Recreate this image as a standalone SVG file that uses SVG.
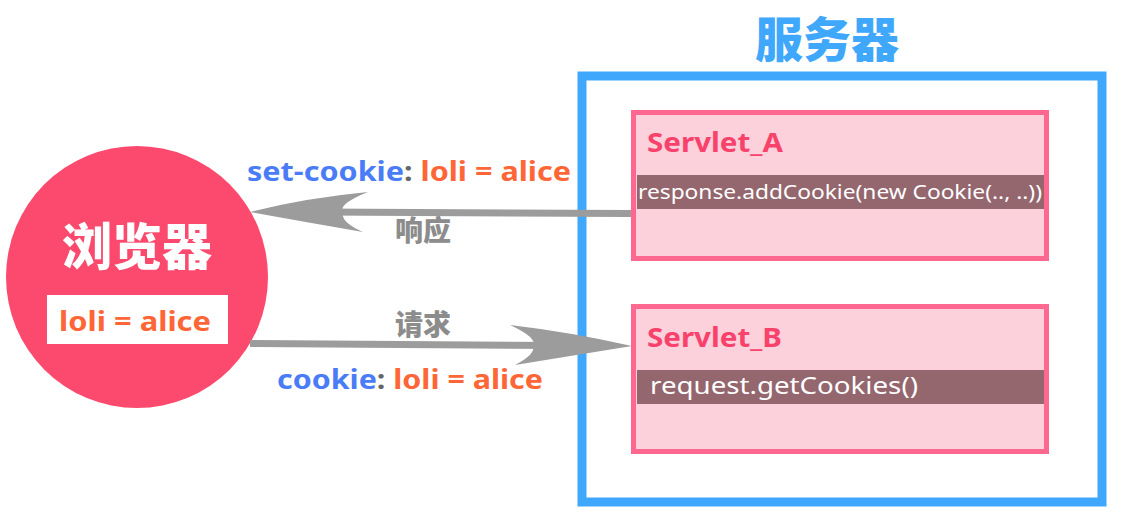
<svg xmlns="http://www.w3.org/2000/svg" width="1145" height="521" viewBox="0 0 1145 521">
<style>
.lat{font-family:"Noto Sans","Open Sans","Liberation Sans",sans-serif;font-weight:bold}
.cjk{font-family:"Noto Sans CJK SC","Noto Sans",sans-serif;font-weight:900}
.code{font-family:"Noto Sans","Open Sans","Liberation Sans",sans-serif;fill:#fff}
.blue{fill:#4a7cf8}.orange{fill:#ff6637}.colon{fill:#666}
.servlet{fill:#fdd1db;stroke:#fe6890;stroke-width:5}
.bar{fill:#94666e}
.title{fill:#f8416b;font-size:26px}
.arrow{fill:#9c9c9c}
.line{stroke:#9c9c9c;stroke-width:7;fill:none}
</style>
<rect width="1145" height="521" fill="#fff"/>
<g id="server">
<rect x="582" y="76" width="520" height="426" fill="none" stroke="#40a8fc" stroke-width="9"/>
<text x="827" y="57" text-anchor="middle" class="cjk" font-size="48" fill="#40a8fc">服务器</text>
</g>
<g id="browser">
<circle cx="137" cy="277" r="131" fill="#fb4a6d"/>
<text x="137" y="265" text-anchor="middle" class="cjk" font-size="50" fill="#fff">浏览器</text>
<rect x="47" y="295" width="181" height="49" fill="#fff"/>
<text x="59" y="331" class="lat orange" font-size="26" textLength="152" lengthAdjust="spacingAndGlyphs">loli = alice</text>
</g>
<g id="servlet-a">
<rect x="633.5" y="112.5" width="413" height="146" class="servlet"/>
<text x="647" y="152" class="lat title" textLength="136" lengthAdjust="spacingAndGlyphs">Servlet_A</text>
<rect x="637" y="175" width="407" height="34" class="bar"/>
<text x="638" y="199" class="code" font-size="20" textLength="404" lengthAdjust="spacingAndGlyphs">response.addCookie(new Cookie(.., ..))</text>
</g>
<g id="servlet-b">
<rect x="633.5" y="306.5" width="413" height="145" class="servlet"/>
<text x="647" y="347" class="lat title" textLength="135" lengthAdjust="spacingAndGlyphs">Servlet_B</text>
<rect x="637" y="370" width="407" height="34" class="bar"/>
<text x="650" y="394" class="code" font-size="24" textLength="268" lengthAdjust="spacingAndGlyphs">request.getCookies()</text>
</g>
<g id="connectors">
<path class="line" d="M631,213.5 L320,212"/>
<path class="arrow" d="M250,212 Q305,198 368,192 Q338,204 343,212 Q340,222 363,232 Q305,222 250,212 Z"/>
<path class="line" d="M250,343.5 L560,345.5"/>
<path class="arrow" d="M632,346 Q570,332 510,325 Q538,338 533,346 Q536,354 515,365 Q570,356 632,346 Z"/>
</g>
<g id="labels">
<text x="247" y="181" class="lat" font-size="26" textLength="324" lengthAdjust="spacingAndGlyphs"><tspan class="blue">set-cookie</tspan><tspan class="colon">:</tspan><tspan class="orange"> loli = alice</tspan></text>
<text x="423" y="241" text-anchor="middle" class="cjk" font-size="28" fill="#8c8c8c">响应</text>
<text x="423" y="335" text-anchor="middle" class="cjk" font-size="28" fill="#8c8c8c">请求</text>
<text x="277" y="389" class="lat" font-size="26" textLength="266" lengthAdjust="spacingAndGlyphs"><tspan class="blue">cookie</tspan><tspan class="colon">:</tspan><tspan class="orange"> loli = alice</tspan></text>
</g>
</svg>
